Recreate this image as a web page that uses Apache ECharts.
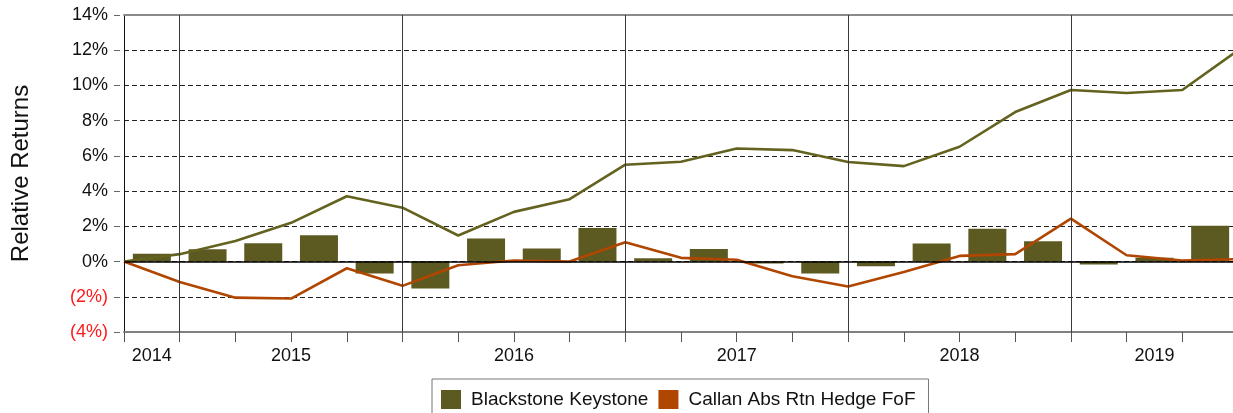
<!DOCTYPE html>
<html lang="en">
<head>
    <meta charset="UTF-8">
    <script src="https://cdn.jsdelivr.net/npm/echarts@6/dist/echarts.min.js"></script>
    <title>Relative Returns</title>
    <style>
        html, body { margin: 0; padding: 0; background: #fff; }
    </style>
</head>
<body>
    <div id="chart" style="width: 1233px;height:413px;"></div>
    <script type="text/javascript">
        // quarterly excess return bars (one per quarter)
        var quarters = ['2014Q4',
            '2015Q1', '2015Q2', '2015Q3', '2015Q4',
            '2016Q1', '2016Q2', '2016Q3', '2016Q4',
            '2017Q1', '2017Q2', '2017Q3', '2017Q4',
            '2018Q1', '2018Q2', '2018Q3', '2018Q4',
            '2019Q1', '2019Q2', '2019Q3'];
        var quarterlyExcess = [0.45, 0.70, 1.04, 1.50, -0.68, -1.53, 1.31, 0.74, 1.90, 0.19,
            0.72, -0.11, -0.68, -0.27, 1.02, 1.86, 1.16, -0.17, 0.21, 2.03];
        // cumulative lines, one value per quarter end (starting point included)
        var blackstoneCum = [0, 0.42, 1.17, 2.20, 3.71, 3.06, 1.48, 2.82, 3.54, 5.50, 5.67,
            6.42, 6.33, 5.65, 5.42, 6.52, 8.49, 9.74, 9.57, 9.74, 12.0];
        var callanCum = [0, -1.16, -2.05, -2.10, -0.38, -1.38, -0.21, 0.06, 0.0, 1.10, 0.21,
            0.10, -0.83, -1.42, -0.59, 0.32, 0.42, 2.44, 0.36, 0.06, 0.14];
        var yTicks = [-4, -2, 0, 2, 4, 6, 8, 10, 12, 14];

        var OLIVE = '#5c5a21';
        var OLIVE_LINE = '#63621f';
        var ORANGE = '#b04600';

        // year boundaries and year label positions, derived from the quarters
        var yearStarts = [];
        var yearLabels = [];
        var yearPos = [];
        quarters.forEach(function (q, i) {
            var yr = q.slice(0, 4);
            if (q.slice(4) === 'Q1' && i > 0) yearStarts.push(i);
            var k = yearLabels.indexOf(yr);
            if (k < 0) { yearLabels.push(yr); yearPos.push([i + 0.5]); }
            else yearPos[k].push(i + 0.5);
        });
        yearPos = yearPos.map(function (a) {
            return a.reduce(function (s, v) { return s + v; }, 0) / a.length;
        });

        var barData = quarterlyExcess.map(function (v, i) { return [i + 0.5, v]; });
        var bxData = blackstoneCum.map(function (v, i) { return [i, v]; });
        var clData = callanCum.map(function (v, i) { return [i, v]; });

        var markLines = yearStarts.map(function (i) {
            return { xAxis: i, lineStyle: { color: '#3a3a3a', width: 1, type: 'solid' } };
        });
        markLines.push({ yAxis: 0, lineStyle: { color: '#000', width: 1.5, type: 'solid' } });

        var chart = echarts.init(document.getElementById('chart'));
        var option = {
            animation: false,
            backgroundColor: '#fff',
            textStyle: { fontFamily: 'Liberation Sans, Arial, sans-serif' },
            grid: { left: 124, top: 15, right: -5, bottom: 81, outerBoundsMode: 'none' },
            legend: {
                data: ['Blackstone Keystone', 'Callan Abs Rtn Hedge FoF'],
                left: 432,
                top: 379,
                icon: 'rect',
                itemWidth: 20,
                itemHeight: 19,
                itemGap: 10,
                padding: [11, 13, 11, 9],
                borderColor: '#777',
                borderWidth: 1,
                textStyle: { fontSize: 19, color: '#111', padding: [0, 0, 0, 5] }
            },
            xAxis: [
                {
                    // quarter ticks
                    type: 'value', min: 0, max: quarters.length, interval: 1,
                    position: 'bottom',
                    axisLine: { show: true, onZero: false, lineStyle: { color: '#808080', width: 2 } },
                    axisTick: { show: true, length: 10, lineStyle: { color: '#555', width: 1 } },
                    axisLabel: { show: false },
                    splitLine: { show: false }
                },
                {
                    // year labels
                    type: 'value', min: 0, max: quarters.length, interval: 0.5,
                    position: 'bottom',
                    axisLine: { show: false, onZero: false },
                    axisTick: { show: false },
                    splitLine: { show: false },
                    axisLabel: {
                        margin: 15, fontSize: 18, color: '#111',
                        formatter: function (v) {
                            for (var k = 0; k < yearPos.length; k++) {
                                if (Math.abs(yearPos[k] - v) < 1e-6) return yearLabels[k];
                            }
                            return '';
                        }
                    }
                },
                {
                    // top frame
                    type: 'value', position: 'top', min: 0, max: quarters.length,
                    axisLine: { show: true, onZero: false, lineStyle: { color: '#8a8a8a', width: 2 } },
                    axisTick: { show: false }, axisLabel: { show: false }, splitLine: { show: false }
                }
            ],
            yAxis: [
                {
                    type: 'value', min: yTicks[0], max: yTicks[yTicks.length - 1], interval: 2,
                    name: 'Relative Returns',
                    nameLocation: 'middle',
                    nameGap: 91,
                    nameTextStyle: { fontSize: 24, color: '#111' },
                    axisLine: { show: true, onZero: false, lineStyle: { color: '#111', width: 1 } },
                    axisTick: { show: false },
                    axisLabel: { show: false },
                    splitLine: { show: true, lineStyle: { color: '#222', width: 1, type: [5, 3] } }
                },
                {
                    type: 'value', min: yTicks[0], max: yTicks[yTicks.length - 1], interval: 2,
                    position: 'left', offset: 4,
                    axisLine: { show: false, onZero: false },
                    axisTick: { show: true, length: 6, lineStyle: { color: '#666', width: 1 } },
                    splitLine: { show: false },
                    axisLabel: {
                        margin: 12, fontSize: 18,
                        color: function (v) { return v < 0 ? '#ff1a1a' : '#111'; },
                        formatter: function (v) {
                            return v < 0 ? '(' + (-v) + '%)' : v + '%';
                        }
                    }
                }
            ],
            series: [
                {
                    name: 'Blackstone Keystone',
                    type: 'bar',
                    barWidth: 38,
                    data: barData,
                    itemStyle: { color: OLIVE },
                    markLine: {
                        silent: true, symbol: 'none', label: { show: false },
                        data: markLines
                    }
                },
                {
                    name: 'Blackstone Keystone Cumulative',
                    type: 'line',
                    data: bxData,
                    showSymbol: false,
                    symbol: 'none',
                    lineStyle: { color: OLIVE_LINE, width: 2.6 },
                    itemStyle: { color: OLIVE_LINE }
                },
                {
                    name: 'Callan Abs Rtn Hedge FoF',
                    type: 'line',
                    data: clData,
                    showSymbol: false,
                    symbol: 'none',
                    lineStyle: { color: ORANGE, width: 2.6 },
                    itemStyle: { color: ORANGE }
                }
            ]
        };
        chart.setOption(option);
    </script>
</body>
</html>
